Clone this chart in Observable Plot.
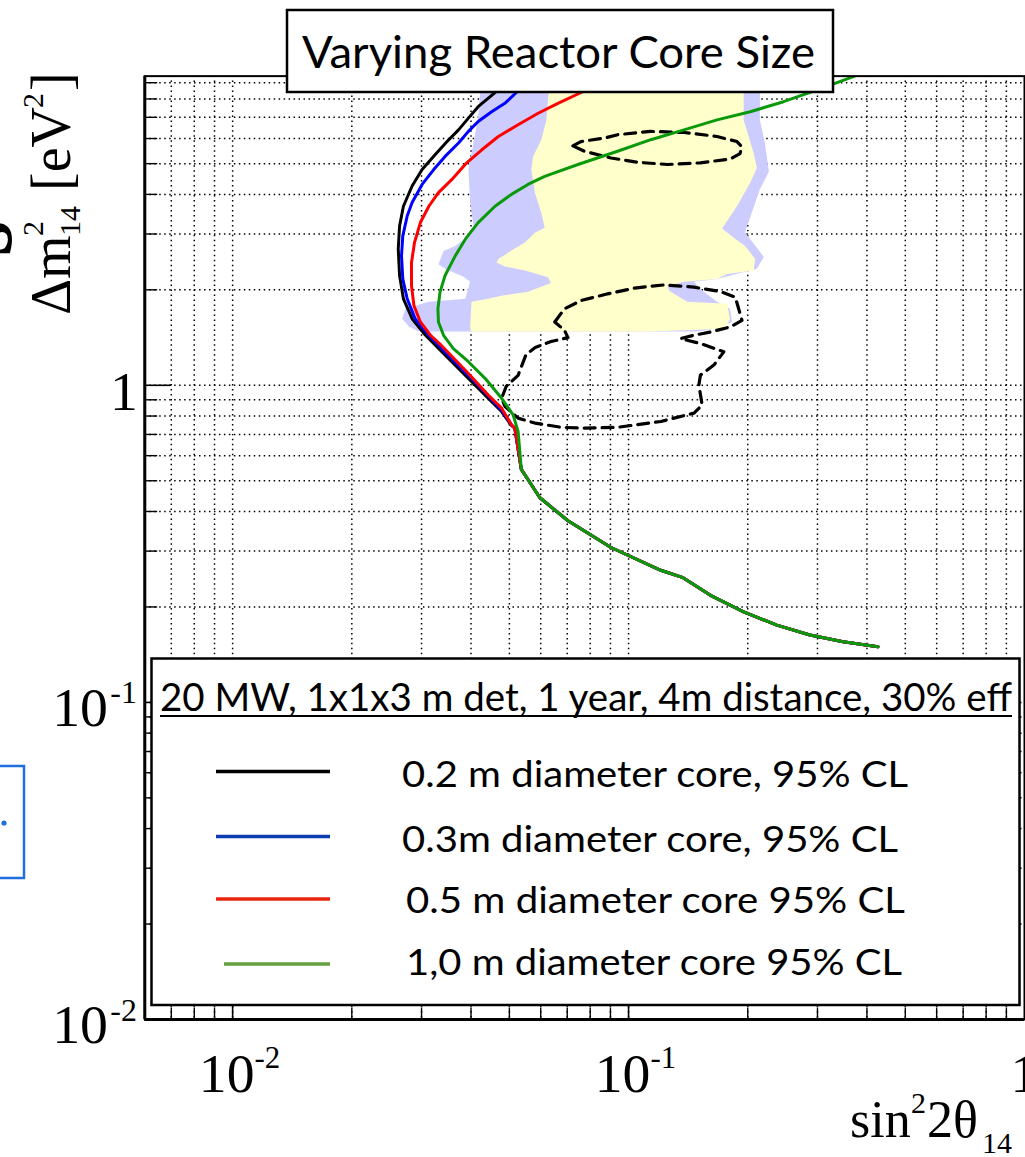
<!DOCTYPE html>
<html><head><meta charset="utf-8">
<script src="https://cdn.jsdelivr.net/npm/d3@7"></script>
<script src="https://cdn.jsdelivr.net/npm/@observablehq/plot@0.6"></script>
<style>
html,body{margin:0;padding:0;background:#fff;overflow:hidden;width:1025px;height:1157px;}
#wrap{position:relative;width:1025px;height:1157px;overflow:hidden;}
#wrap svg{position:absolute;left:0;top:0;}
</style></head><body><div id="wrap"></div>
<script>
// ---------------- data (sin^2 2θ14, Δm^2_14 [eV^2]) ----------------
const titleText = "Varying Reactor Core Size";
const legendHeader = "20 MW, 1x1x3 m det, 1 year, 4m distance, 30% eff";
const seriesNames = ["0.2 m diameter core, 95% CL", "0.3m diameter core, 95% CL", "0.5 m diameter core 95% CL", "1,0 m diameter core 95% CL"];
const seriesColors = ["#000000", "#0000ff", "#ff0000", "#0a990a"];
const legendColors = ["#000000", "#0c3db0", "#e8240c", "#65a040"];

// shared low-Δm² part of all four exclusion curves
const commonTail = [[0.0516,0.733],[0.0536,0.543],[0.0597,0.442],[0.0703,0.374],[0.0903,0.308],[0.1206,0.261],[0.1367,0.248],[0.1610,0.2176],[0.1953,0.193],[0.2368,0.1752],[0.2871,0.1631],[0.3483,0.1553],[0.4265,0.1498]];
const core02 = [[0.0514,9.44],[0.0455,8.29],[0.0417,7.56],[0.0394,6.96],[0.0372,6.39],[0.0348,5.87],[0.0325,5.34],[0.0301,4.79],[0.0284,4.25],[0.0270,3.67],[0.0264,3.18],[0.0262,2.69],[0.0264,2.22],[0.0270,1.874],[0.0284,1.622],[0.0307,1.438],[0.0337,1.278],[0.0401,1.029],[0.0442,0.910],[0.0477,0.829],[0.0505,0.749]];
const core03 = [[0.0577,9.44],[0.0516,8.29],[0.0487,7.75],[0.0451,7.29],[0.0417,6.79],[0.0394,6.32],[0.0372,5.81],[0.0344,5.27],[0.0322,4.79],[0.0301,4.30],[0.0284,3.77],[0.0276,3.42],[0.0269,2.96],[0.0267,2.56],[0.0269,2.165],[0.0276,1.874],[0.0289,1.622],[0.0313,1.438],[0.0343,1.278],[0.0408,1.029],[0.0448,0.910],[0.0480,0.829],[0.0507,0.749]];
const core05 = [[0.0931,9.44],[0.0745,8.29],[0.0663,7.75],[0.0591,7.21],[0.0526,6.63],[0.0469,6.09],[0.0426,5.53],[0.0390,5.03],[0.0358,4.46],[0.0331,4.05],[0.0313,3.67],[0.0298,3.26],[0.0288,2.82],[0.0283,2.44],[0.0283,2.06],[0.0287,1.785],[0.0298,1.584],[0.0316,1.438],[0.0333,1.354],[0.0394,1.090],[0.0442,0.932],[0.0478,0.847],[0.0506,0.751]];
const core10 = [[0.3726,9.44],[0.2985,8.53],[0.2462,7.84],[0.2029,7.29],[0.1673,6.87],[0.1380,6.39],[0.1138,5.95],[0.0938,5.47],[0.0745,4.97],[0.0614,4.56],[0.0557,4.30],[0.0506,4.00],[0.0460,3.67],[0.0417,3.26],[0.0387,2.89],[0.0365,2.56],[0.0344,2.22],[0.0334,1.967],[0.0330,1.743],[0.0331,1.584],[0.0341,1.438],[0.0361,1.306],[0.0394,1.187],[0.0434,1.052],[0.0478,0.910],[0.0511,0.807],[0.0526,0.716]];

// allowed regions (filled)
const blueRegion = [[0.0425,9.44],[0.0417,7.02],[0.0406,5.82],[0.0394,4.79],[0.0398,3.77],[0.0406,3.17],[0.0394,2.95],[0.0365,2.75],[0.0341,2.65],[0.0331,2.41],[0.0344,2.33],[0.0383,2.20],[0.0398,2.12],[0.0387,1.874],[0.0313,1.834],[0.0273,1.743],[0.0268,1.622],[0.0279,1.531],[0.0295,1.477],[0.1491,1.477],[0.1673,1.509],[0.1825,1.587],[0.1804,1.743],[0.1673,1.834],[0.1517,2.014],[0.1465,2.12],[0.1673,2.165],[0.2109,2.33],[0.2196,2.54],[0.1968,3.04],[0.2146,4.15],[0.2262,4.72],[0.2209,5.82],[0.2146,6.87],[0.2146,9.44]];
const yellowRegion = [[0.0633,9.44],[0.062,6.87],[0.0602,5.95],[0.0574,5.27],[0.0568,4.79],[0.058,4.05],[0.0602,3.50],[0.0614,3.14],[0.058,3.03],[0.0547,2.82],[0.0506,2.66],[0.0469,2.50],[0.0464,2.44],[0.0487,2.37],[0.0547,2.30],[0.0626,2.19],[0.0637,2.10],[0.0557,1.971],[0.0477,1.915],[0.0442,1.874],[0.0401,1.834],[0.0398,1.509],[0.0401,1.477],[0.1136,1.477],[0.1753,1.509],[0.1804,1.622],[0.1774,1.807],[0.1407,1.834],[0.1268,1.985],[0.1253,2.059],[0.1382,2.12],[0.1673,2.165],[0.1774,2.244],[0.2069,2.30],[0.2088,2.50],[0.1971,2.75],[0.1844,2.92],[0.1722,3.12],[0.1878,3.67],[0.2029,4.35],[0.2109,4.85],[0.2069,5.40],[0.2011,6.09],[0.1953,6.87],[0.1953,9.44]];

// dashed contours
const contourUpper = [[0.0723,5.69],[0.0758,5.87],[0.0869,6.02],[0.0939,6.17],[0.1136,6.32],[0.1382,6.27],[0.1673,6.09],[0.1878,5.87],[0.1934,5.65],[0.1912,5.38],[0.1804,5.17],[0.1517,5.03],[0.1253,4.97],[0.1053,5.05],[0.0903,5.21],[0.0774,5.47],[0.0723,5.69]];
const contourLower = [[0.0651,1.584],[0.0689,1.743],[0.0759,1.851],[0.0886,1.943],[0.1034,2.025],[0.1229,2.073],[0.1463,2.039],[0.1706,1.975],[0.186,1.897],[0.1897,1.743],[0.1934,1.602],[0.1807,1.528],[0.161,1.473],[0.1463,1.438],[0.1353,1.404],[0.1519,1.354],[0.174,1.275],[0.1642,1.158],[0.1519,1.077],[0.1505,1.002],[0.1534,0.867],[0.1463,0.817],[0.1206,0.769],[0.0938,0.737],[0.0774,0.733],[0.0676,0.737],[0.058,0.760],[0.0526,0.788],[0.0487,0.859],[0.0478,0.910],[0.0491,0.993],[0.0526,1.075],[0.0539,1.164],[0.0551,1.251],[0.0581,1.315],[0.0637,1.374],[0.0703,1.414],[0.0689,1.491],[0.0651,1.584]];

// axes
const xDomain = [0.006, 1];
const yDomain = [0.01, 9.44];
const xMajor = [0.01, 0.1];
const xMinor = [0.007,0.008,0.009,0.02,0.03,0.04,0.05,0.06,0.07,0.08,0.09,0.2,0.3,0.4,0.5,0.6,0.7,0.8,0.9];
const yMajor = [0.1, 1];
const yMinor = [0.02,0.03,0.04,0.05,0.06,0.07,0.08,0.09,0.2,0.3,0.4,0.5,0.6,0.7,0.8,0.9,2,3,4,5,6,7,8,9];
const xDecadeLabels = [{v:0.01, exp:"-2"}, {v:0.1, exp:"-1"}];
const xUnitLabels = [1];
const yDecadeLabels = [{v:0.1, exp:"-1"}, {v:0.01, exp:"-2"}];
const yUnitLabels = [1];

// ---------------- chart ----------------
const serif = "'Liberation Serif', 'Times New Roman', serif";
const curves = [core02, core03, core05, core10].map((c, i) => c.concat(i === 3 ? commonTail.slice(1) : commonTail).map(p => ({x: p[0], y: p[1], s: i})));
const pts = a => a.map(p => ({x: p[0], y: p[1]}));
const grid = {stroke: "#000", strokeWidth: 1.5, strokeDasharray: "1.5,3.5"};

const plot = Plot.plot({
  width: 1030, height: 1157,
  marginLeft: 145, marginRight: 1, marginTop: 76, marginBottom: 133,
  style: {background: "transparent", overflow: "visible"},
  x: {type: "log", domain: xDomain, axis: null},
  y: {type: "log", domain: yDomain, axis: null},
  marks: [
    Plot.ruleX(xMajor.concat(xMinor), grid),
    Plot.ruleY(yMajor.concat(yMinor), grid),
    Plot.line(pts(blueRegion), {x: "x", y: "y", fill: "#ccccff", stroke: "none", clip: true}),
    Plot.line(pts(yellowRegion), {x: "x", y: "y", fill: "#ffffcc", stroke: "none", clip: true}),
    Plot.line(pts(contourUpper), {x: "x", y: "y", stroke: "#000", strokeWidth: 3.2, strokeDasharray: "11,7", clip: true}),
    Plot.line(pts(contourLower), {x: "x", y: "y", stroke: "#000", strokeWidth: 3.2, strokeDasharray: "11,7", clip: true}),
    ...curves.map((c, i) => Plot.line(c, {x: "x", y: "y", stroke: seriesColors[i], strokeWidth: 3, clip: true})),
    Plot.ruleX(xMajor, {stroke: "#000", strokeWidth: 1.6, insetTop: 930}),
    Plot.ruleX(xMinor, {stroke: "#000", strokeWidth: 1.4, insetTop: 937}),
    Plot.ruleY(yMajor, {stroke: "#000", strokeWidth: 1.6, insetRight: 857}),
    Plot.ruleY(yMinor, {stroke: "#000", strokeWidth: 1.4, insetRight: 871}),
    Plot.frame({stroke: "#000", strokeWidth: 2}),
    Plot.ruleX([xDomain[0]], {stroke: "#000", strokeWidth: 3}),
    Plot.ruleY([yDomain[0]], {stroke: "#000", strokeWidth: 3}),
    // tick labels
    Plot.text(xDecadeLabels, {x: "v", frameAnchor: "bottom", text: () => "10", textAnchor: "end", lineAnchor: "bottom", dx: 22, dy: 73, fontSize: 56, fontFamily: serif}),
    Plot.text(xDecadeLabels, {x: "v", frameAnchor: "bottom", text: "exp", textAnchor: "start", lineAnchor: "bottom", dx: 22, dy: 49, fontSize: 31, fontFamily: serif}),
    Plot.text(xUnitLabels, {x: d => d, frameAnchor: "bottom", text: () => "1", textAnchor: "middle", lineAnchor: "bottom", dy: 73, fontSize: 56, fontFamily: serif}),
    Plot.text(yDecadeLabels, {y: "v", frameAnchor: "left", text: () => "10", textAnchor: "end", lineAnchor: "bottom", dx: -37, dy: 24, fontSize: 56, fontFamily: serif}),
    Plot.text(yDecadeLabels, {y: "v", frameAnchor: "left", text: "exp", textAnchor: "end", lineAnchor: "bottom", dx: -8, dy: 1, fontSize: 32, fontFamily: serif}),
    Plot.text(yUnitLabels, {y: d => d, frameAnchor: "left", text: () => "1", textAnchor: "end", lineAnchor: "bottom", dx: -7, dy: 25, fontSize: 56, fontFamily: serif})
  ]
});
document.getElementById("wrap").appendChild(plot);

// ---------------- overlay: title, legend, axis titles ----------------
const ov = d3.select("#wrap").append("svg").attr("width", 1025).attr("height", 1157);
const sans = "Lato, 'Open Sans', sans-serif";

// title box
ov.append("rect").attr("x", 287).attr("y", 10).attr("width", 546).attr("height", 82)
  .attr("fill", "#fff").attr("stroke", "#000").attr("stroke-width", 2.5);
ov.append("text").attr("x", 302).attr("y", 68).attr("textLength", 513).attr("lengthAdjust", "spacingAndGlyphs")
  .attr("font-family", sans).attr("font-size", 45).text(titleText);

// legend
ov.append("rect").attr("x", 151.5).attr("y", 658.5).attr("width", 868).attr("height", 346.5)
  .attr("fill", "#fff").attr("stroke", "#000").attr("stroke-width", 2.5);
ov.append("text").attr("x", 160).attr("y", 711).attr("textLength", 852).attr("lengthAdjust", "spacingAndGlyphs")
  .attr("font-family", sans).attr("font-size", 39).text(legendHeader);
ov.append("line").attr("x1", 160).attr("x2", 1012).attr("y1", 716).attr("y2", 716).attr("stroke", "#000").attr("stroke-width", 2.2);
const legY = [771.5, 836.5, 899, 964];
const legTextX = [402, 402, 406, 406];
const legTextW = [506, 496, 499, 496];
const legBase = [786.5, 851.5, 913, 975];
seriesNames.forEach((name, i) => {
  ov.append("line").attr("x1", i === 3 ? 224 : 216).attr("x2", 330).attr("y1", legY[i]).attr("y2", legY[i])
    .attr("stroke", legendColors[i]).attr("stroke-width", 3.4);
  ov.append("text").attr("x", legTextX[i]).attr("y", legBase[i]).attr("textLength", legTextW[i]).attr("lengthAdjust", "spacingAndGlyphs")
    .attr("font-family", sans).attr("font-size", 36).text(name);
});

// y-axis title (rotated)
const yt = ov.append("g").attr("transform", "translate(70,315) rotate(-90)").attr("font-family", serif);
yt.append("text").attr("x", 0).attr("y", 0).attr("font-size", 56).text("Δm");
yt.append("text").attr("x", 79).attr("y", -27).attr("font-size", 30).text("2");
yt.append("text").attr("x", 79).attr("y", 10).attr("font-size", 30).text("14");
yt.append("text").attr("x", 124).attr("y", 0).attr("font-size", 56).text("[eV");
yt.append("text").attr("x", 207).attr("y", -27).attr("font-size", 30).text("2");
yt.append("text").attr("x", 224).attr("y", 0).attr("font-size", 56).text("]");
// cropped fragment of a neighbouring label
ov.append("g").attr("transform", "translate(11,256) rotate(-90)")
  .append("text").attr("font-family", serif).attr("font-weight", "bold").attr("font-size", 90).text("s");

// x-axis title
const xt = ov.append("g").attr("font-family", serif);
xt.append("text").attr("x", 850).attr("y", 1137).attr("font-size", 52).text("sin");
xt.append("text").attr("x", 911).attr("y", 1113).attr("font-size", 30).text("2");
xt.append("text").attr("x", 927).attr("y", 1137).attr("font-size", 52).text("2θ");
xt.append("text").attr("x", 982).attr("y", 1153).attr("font-size", 30).text("14");

// cropped neighbouring box at the left edge
ov.append("rect").attr("x", -10).attr("y", 766).attr("width", 34).attr("height", 112)
  .attr("fill", "none").attr("stroke", "#1f6fe0").attr("stroke-width", 2.5);
ov.append("circle").attr("cx", 4).attr("cy", 823).attr("r", 2.6).attr("fill", "#1f6fe0");
</script></body></html>
